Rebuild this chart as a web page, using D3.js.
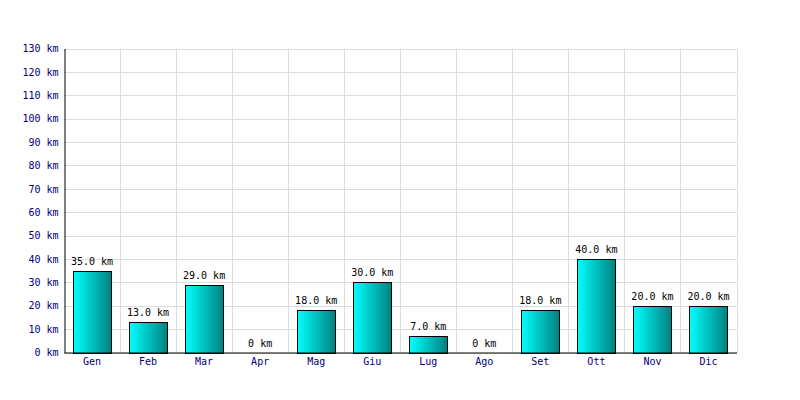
<!DOCTYPE html>
<html><head><meta charset="utf-8">
<script src="https://cdn.jsdelivr.net/npm/d3@7"></script>
<style>body{margin:0;background:#fff}svg{display:block}</style>
</head><body><svg id="c" width="800" height="400"></svg>
<script>
const months = ["Gen","Feb","Mar","Apr","Mag","Giu","Lug","Ago","Set","Ott","Nov","Dic"];
const km = [35,13,29,0,18,30,7,0,18,40,20,20];
const yTicks = [0,10,20,30,40,50,60,70,80,90,100,110,120,130];

const svg = d3.select("#c");
const L=64, R=736.5, T=48.5, B=352.5;
const x = d3.scaleBand().domain(months).range([L,R]).paddingInner(0.32).paddingOuter(0.16);
const y = d3.scaleLinear().domain([0,130]).range([B,T]);
const font = "'DejaVu Sans Mono', monospace";
const fs = 10;

const defs = svg.append("defs");
const g = defs.append("linearGradient").attr("id","grad").attr("x1","0").attr("x2","1").attr("y1","0").attr("y2","0");
g.append("stop").attr("offset","0").attr("stop-color","#00ffff");
g.append("stop").attr("offset","1").attr("stop-color","#008080");

// grid
svg.append("g").selectAll("line").data(yTicks).join("line")
  .attr("x1",L).attr("x2",R).attr("y1",d=>Math.round(y(d))+0.5).attr("y2",d=>Math.round(y(d))+0.5)
  .attr("stroke","#dddddd");
const step = x.step();
const vlines = d3.range(1,13).map(i=>L+i*step);
svg.append("g").selectAll("line").data(vlines).join("line")
  .attr("x1",d=>Math.round(d)+0.5).attr("x2",d=>Math.round(d)+0.5).attr("y1",T).attr("y2",B)
  .attr("stroke","#dddddd");

// bars
svg.append("g").selectAll("rect").data(months.map((m,i)=>({m,v:km[i]})).filter(d=>d.v>0)).join("rect")
  .attr("x",d=>Math.round(x(d.m))+0.5).attr("width",Math.round(x.bandwidth()))
  .attr("y",d=>Math.round(y(d.v))+0.5).attr("height",d=>Math.round(B)-Math.round(y(d.v)))
  .attr("fill","url(#grad)").attr("stroke","#000").attr("stroke-width",1);

// value labels
svg.append("g").selectAll("text").data(months.map((m,i)=>({m,v:km[i]}))).join("text")
  .attr("x",d=>x(d.m)+x.bandwidth()/2).attr("y",d=>y(d.v)-6)
  .attr("text-anchor","middle").attr("font-family",font).attr("font-size",fs).attr("fill","#000")
  .text(d=>d.v===0?"0 km":d.v.toFixed(1)+" km");

// axes
const yAxis = d3.axisLeft(y).tickValues(yTicks).tickSize(0).tickPadding(6).tickFormat(d=>d+" km");
const ya = svg.append("g").attr("transform",`translate(${L+0.5},0)`).call(yAxis);
ya.select(".domain").attr("stroke","#000");
ya.selectAll("text").attr("font-family",font).attr("font-size",fs).attr("fill","#000080");

const xAxis = d3.axisBottom(x).tickSize(0).tickPadding(5);
const xa = svg.append("g").attr("transform",`translate(0,${B})`).call(xAxis);
xa.select(".domain").attr("stroke","#000");
xa.selectAll("text").attr("font-family",font).attr("font-size",fs).attr("fill","#000080");
</script></body></html>
